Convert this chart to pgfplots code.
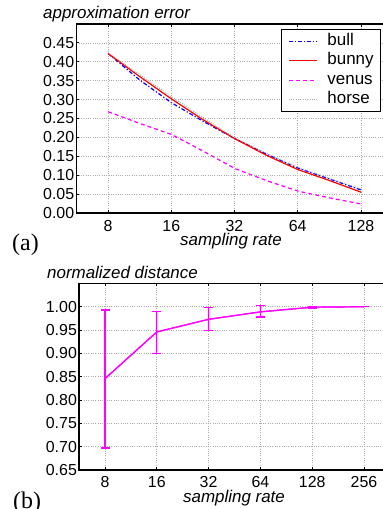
\documentclass[border=0pt]{standalone}
\usepackage{fontspec}
\setmainfont{Liberation Sans}
\setsansfont{Liberation Sans}
\newfontfamily\seriffont{Liberation Serif}
\usepackage{pgfplots}
\pgfplotsset{compat=1.18}
\usepackage{pgfplotstable}
\definecolor{mag}{RGB}{255,0,255}
\definecolor{pblue}{RGB}{0,0,255}
\definecolor{pred}{RGB}{255,0,0}

\pgfplotstableread{
x     bull   bunny  venus  horse
8     0.422  0.422  0.268  0.424
11.31 0.352  0.361  0.237  0.366
16    0.292  0.302  0.208  0.308
22.63 0.243  0.247  0.164  0.253
32    0.197  0.197  0.118  0.200
45.25 0.156  0.153  0.086  0.158
64    0.119  0.115  0.058  0.121
90.51 0.090  0.086  0.040  0.092
128   0.061  0.055  0.024  0.064
}\errtable

\pgfplotstableread{
x    y      ep     em
8    0.846  0.147  0.149
16   0.946  0.043  0.046
32   0.973  0.025  0.024
64   0.989  0.013  0.011
128  0.999  0.002  0.002
256  1.000  0.000  0.000
}\disttable

\pgfplotsset{
  every axis/.append style={
    scale only axis,
    axis line style={black, line width=1.3bp},
    tick style={black, line width=0.8bp},
    major tick length=3bp,
    tick align=inside,
    xtick pos=both, ytick pos=both,
    grid=major,
    major grid style={gray!65, line width=0.7bp, dash pattern=on 0.7bp off 1.6bp},
    tick label style={font=\fontsize{16}{16}\selectfont},
    yticklabel style={inner sep=0pt, xshift=-2bp},
    xticklabel style={inner sep=0pt, yshift=-7bp},
  }
}

\begin{document}
\begin{tikzpicture}
\useasboundingbox (0,0) rectangle (383bp,509bp);
\clip (0,0) rectangle (383bp,509bp);

% ---------- (a) ----------
\begin{axis}[
  xmode=log, log basis x=2,
  at={(76.4bp,296bp)}, anchor=south west,
  width=316.2bp, height=189bp,
  xmin=5.657, xmax=181.02,
  ymin=0, ymax=0.5,
  xtick={8,16,32,64,128},
  xticklabels={8,16,32,64,128},
  ytick={0,0.05,0.10,0.15,0.20,0.25,0.30,0.35,0.40,0.45},
  yticklabel={\pgfmathprintnumber[fixed,fixed zerofill,precision=2,assume math mode=true]{\tick}},
  legend style={at={(1,1)}, anchor=north east, xshift=-11.5bp, yshift=-5bp,
    draw=black, line width=1bp, inner xsep=7bp, inner ysep=4bp,
    font=\fontsize{17}{17}\selectfont, row sep=4bp,
    nodes={inner sep=0pt, text height=12bp, text depth=3.5bp, anchor=west},
    /tikz/every odd column/.append style={column sep=10bp}},
  legend cell align=left,
  legend image code/.code={\draw[#1] (0bp,0bp) -- (28bp,0bp);},
]
\addplot[pblue, line width=1.2bp, dash pattern=on 4bp off 2bp on 1.2bp off 2bp] table[x=x, y=bull] {\errtable};
\addlegendentry{bull}
\addplot[pred, line width=1.2bp] table[x=x, y=bunny] {\errtable};
\addlegendentry{bunny}
\addplot[mag, line width=1.2bp, dash pattern=on 4bp off 3bp] table[x=x, y=venus] {\errtable};
\addlegendentry{venus}
\addplot[gray!70, line width=1bp, dash pattern=on 0.8bp off 1.5bp] table[x=x, y=horse] {\errtable};
\addlegendentry{horse}
\end{axis}

% ---------- (b) ----------
\begin{axis}[
  xmode=log, log basis x=2,
  at={(79.1bp,39bp)}, anchor=south west,
  width=310.8bp, height=186.6bp,
  xmin=5.657, xmax=362.04,
  ymin=0.65, ymax=1.05,
  xtick={8,16,32,64,128,256},
  xticklabels={8,16,32,64,128,256},
  ytick={0.65,0.70,0.75,0.80,0.85,0.90,0.95,1.00},
  yticklabel={\pgfmathprintnumber[fixed,fixed zerofill,precision=2,assume math mode=true]{\tick}},
  xticklabel style={yshift=0.5bp},
]
\addplot[mag, line width=1.2bp, mark=none] table[x=x, y=y] {\disttable};
\addplot[mag, line width=1.2bp, mark=none,
  error bars/.cd, y dir=both, y explicit,
  error bar style={mag, line width=1.2bp},
  error mark options={mag, line width=1.2bp, mark size=4.5bp, rotate=90}]
  table[x=x, y=y, y error plus=ep, y error minus=em] {\disttable};
\end{axis}

% ---------- texts ----------
\node[anchor=base west, inner sep=0pt, font=\fontsize{17}{17}\selectfont\itshape] at (43bp,490bp) {approximation error};
\node[anchor=base, inner sep=0pt, font=\fontsize{17}{17}\selectfont\itshape] at (231bp,263.5bp) {sampling rate};
\node[anchor=base west, inner sep=0pt, font=\fontsize{24}{24}\selectfont\seriffont] at (12bp,258.5bp) {(a)};

\node[anchor=base west, inner sep=0pt, font=\fontsize{17}{17}\selectfont\itshape] at (47bp,230bp) {normalized distance};
\node[anchor=base, inner sep=0pt, font=\fontsize{17}{17}\selectfont\itshape] at (234bp,6.5bp) {sampling rate};
\node[anchor=base west, inner sep=0pt, font=\fontsize{24}{24}\selectfont\seriffont] at (13bp,0.5bp) {(b)};
\end{tikzpicture}
\end{document}
